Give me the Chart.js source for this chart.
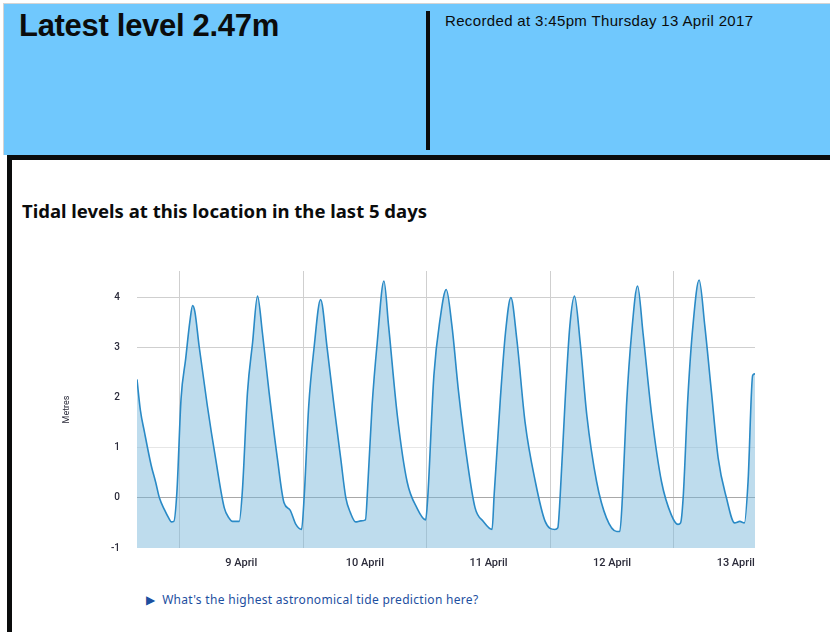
<!DOCTYPE html>
<html>
<head>
<meta charset="utf-8">
<script src="https://cdn.jsdelivr.net/npm/chart.js@4"></script>
<style>
  body { margin: 0; background: #fff; width: 830px; height: 632px; overflow: hidden; position: relative; font-family: "Noto Sans", Arial, sans-serif; }
  .top { position: absolute; left: 3px; top: 3px; width: 827px; height: 152px; background: #70c8fd; border-left: 1px solid #d4d4d4; border-top: 1px solid #d4d4d4; box-sizing: border-box; }
  .latest { position: absolute; left: 19px; top: 8px; font-family: "Liberation Sans", Arial, sans-serif; font-weight: bold; font-size: 31px; color: #0b0c0c; letter-spacing: -0.3px; }
  .divider { position: absolute; left: 426px; top: 11px; width: 4px; height: 139px; background: #0b0c0c; }
  .recorded { position: absolute; left: 445px; top: 12px; font-family: "Liberation Sans", Arial, sans-serif; font-size: 15px; color: #0b0c0c; letter-spacing: 0.35px; }
  .box { position: absolute; left: 7px; top: 155px; width: 830px; height: 480px; border-left: 5px solid #0b0c0c; border-top: 5px solid #0b0c0c; box-sizing: border-box; }
  .title { position: absolute; left: 22px; top: 198px; font-weight: bold; font-size: 18.5px; color: #0b0c0c; }
  #tideChart { position: absolute; left: 40px; top: 248px; }
  .more { position: absolute; left: 146px; top: 591px; font-size: 12px; letter-spacing: 0.3px; color: #1d4f9f; }
</style>
</head>
<body>
<div class="top"></div>
<div class="latest">Latest level 2.47m</div>
<div class="divider"></div>
<div class="recorded">Recorded at 3:45pm Thursday 13 April 2017</div>
<div class="box"></div>
<div class="title">Tidal levels at this location in the last 5 days</div>
<canvas id="tideChart" width="730" height="337"></canvas>
<div class="more">&#9654;&nbsp; What's the highest astronomical tide prediction here?</div>
<script>
// hours since midnight 9 April 2017
const hours = [
    -8.25, -7.6, -6.8, -5.5, -4.6, -3.9, -2.9, -2.0, -1.6, -1.1, -0.5,
    0.3, 1.2, 2.0, 2.55, 3.0, 3.8, 5.4, 7.0, 8.7, 9.6, 10.3, 11.6,
    12.2, 13.2, 14.2, 15.15, 16.1, 17.4, 19.0, 20.3, 21.45, 22.6, 23.7,
    24.2, 25.1, 26.1, 27.4, 28.7, 30.0, 31.3, 32.3, 33.2, 34.2, 35.2, 36.1,
    36.6, 37.4, 38.4, 39.7, 40.6, 42.3, 44.2, 46.1, 47.8,
    48.2, 49.4, 50.6, 51.8, 52.9, 54.2, 55.8, 57.4, 59.0, 60.7,
    61.1, 62.3, 63.3, 64.35, 65.5, 67.1, 69.1, 71.0, 72.9, 73.45,
    73.9, 74.9, 75.8, 76.7, 77.8, 79.1, 81.0, 82.9, 84.9, 85.5,
    86.0, 86.8, 87.8, 88.95, 90.0, 91.7, 93.6, 95.5, 96.8, 97.3,
    97.8, 98.7, 99.7, 100.9, 102.0, 103.3, 104.6, 106.2, 107.8, 108.8, 109.7,
    110.4, 111.3, 111.75
];
// level in metres
const levels = [
    2.36, 1.75, 1.31, 0.65, 0.3, 0.0, -0.24, -0.42, -0.48, -0.47, 0.12,
    1.97, 2.77, 3.5, 3.83, 3.7, 3.03, 1.84, 0.79, -0.2, -0.4, -0.47, -0.47,
    0.12, 2.1, 3.1, 4.02, 3.29, 2.1, 0.79, -0.1, -0.24, -0.53, -0.63,
    0.0, 1.84, 2.96, 3.95, 2.96, 1.84, 0.79, 0.0, -0.3, -0.48, -0.46, -0.44,
    0.32, 1.84, 3.1, 4.32, 3.43, 1.64, 0.32, -0.2, -0.44,
    0.0, 2.44, 3.56, 4.15, 3.43, 2.1, 0.79, -0.2, -0.47, -0.63,
    0.06, 1.97, 3.29, 3.99, 3.16, 1.51, 0.32, -0.47, -0.63, -0.6,
    0.0, 1.97, 3.43, 4.02, 3.1, 1.64, 0.32, -0.4, -0.67, -0.67,
    0.0, 1.84, 3.29, 4.22, 3.29, 1.64, 0.32, -0.34, -0.53, -0.5,
    0.0, 1.97, 3.43, 4.34, 3.43, 2.1, 0.79, 0.0, -0.5, -0.47, -0.5,
    0.32, 2.44, 2.47
];
const dayLines = [0, 24, 48, 72, 96];
const dayLabelHours = [12, 36, 60, 84, 108];
const dayLabels = ['9 April', '10 April', '11 April', '12 April', '13 April'];
const yTicks = [-1, 0, 1, 2, 3, 4];

const ctx = document.getElementById('tideChart').getContext('2d');
const points = hours.map(function(h, i) { return { x: h, y: levels[i] }; });

new Chart(ctx, {
    type: 'line',
    data: {
        datasets: [{
            label: 'Tidal level',
            data: points,
            borderColor: '#2a8ac6',
            backgroundColor: 'rgba(120, 182, 218, 0.48)',
            borderWidth: 1.6,
            pointRadius: 0,
            cubicInterpolationMode: 'monotone',
            fill: 'start'
        }]
    },
    options: {
        responsive: false,
        devicePixelRatio: 1,
        animation: false,
        layout: { padding: { top: 8.5, right: 15, left: 0, bottom: 0 } },
        plugins: {
            legend: { display: false },
            tooltip: { enabled: false }
        },
        scales: {
            x: {
                type: 'linear',
                min: -8.25,
                max: 111.75,
                border: { display: false },
                afterBuildTicks: function(scale) {
                    scale.ticks = dayLines.concat(dayLabelHours).sort(function(a, b) { return a - b; })
                        .map(function(v) { return { value: v }; });
                },
                afterFit: function(scale) { scale.height = 37; },
                grid: {
                    drawTicks: false,
                    color: function(c) {
                        return (c.tick && dayLines.indexOf(c.tick.value) >= 0) ? '#cfcfcf' : 'rgba(0,0,0,0)';
                    }
                },
                ticks: {
                    autoSkip: false,
                    maxRotation: 0,
                    padding: 9,
                    color: '#2b2b3a',
                    font: { family: 'Roboto', size: 11, weight: '500' },
                    callback: function(value) {
                        const i = dayLabelHours.indexOf(value);
                        return i >= 0 ? dayLabels[i] : '';
                    }
                }
            },
            y: {
                min: -1,
                max: 4.52,
                border: { display: false },
                afterBuildTicks: function(scale) {
                    scale.ticks = yTicks.map(function(v) { return { value: v }; });
                },
                afterFit: function(scale) { scale.width = 97; },
                grid: {
                    drawTicks: false,
                    color: function(c) {
                        if (!c.tick) return 'rgba(0,0,0,0)';
                        const v = c.tick.value;
                        if (v === 0) return '#a8a8a8';
                        if (v === 1) return '#e6e6e6';
                        if (v === 3 || v === 4) return '#cfcfcf';
                        return 'rgba(0,0,0,0)';
                    }
                },
                ticks: {
                    padding: 17,
                    color: '#2b2b3a',
                    font: { family: 'Roboto', size: 10, weight: '500' }
                },
                title: {
                    display: true,
                    text: 'Metres',
                    color: '#2b2b3a',
                    font: { family: 'Roboto', size: 9 },
                    padding: { top: 21, bottom: 0 }
                }
            }
        }
    }
});
</script>
</body>
</html>
